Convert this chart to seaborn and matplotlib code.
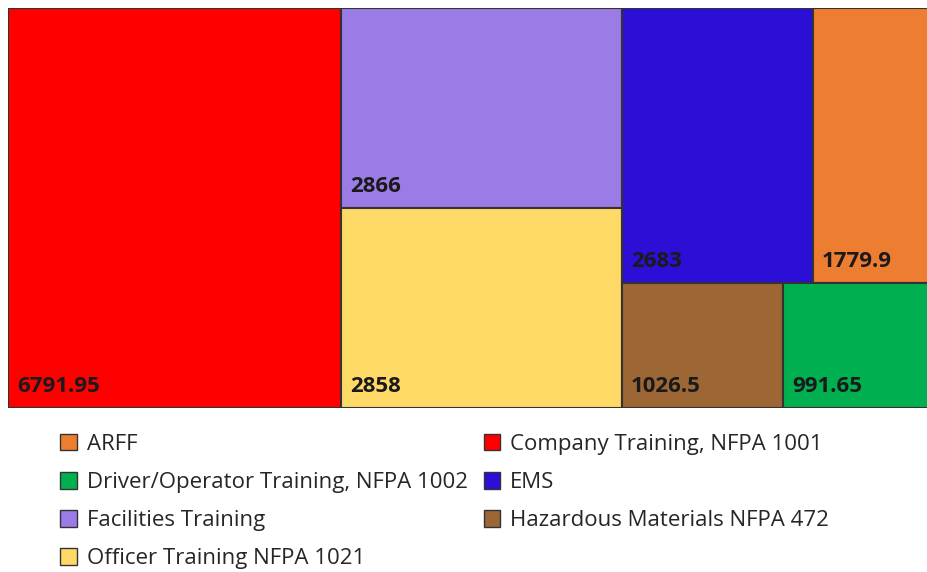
import matplotlib
matplotlib.use('Agg')
import matplotlib.pyplot as plt
from matplotlib.patches import Rectangle, Patch
import seaborn as sns

# 数据
categories = [
    "Company Training, NFPA 1001",
    "Facilities Training",
    "Officer Training NFPA 1021",
    "EMS",
    "ARFF",
    "Hazardous Materials NFPA 472",
    "Driver/Operator Training, NFPA 1002",
]
values = [6791.95, 2866, 2858, 2683, 1779.9, 1026.5, 991.65]
labels = ["6791.95", "2866", "2858", "2683", "1779.9", "1026.5", "991.65"]
colors = ["#FF0000", "#9B7BE6", "#FFD966", "#2B0FD6", "#ED7D31", "#9C6635", "#00B050"]

# 分组结构（索引）：第一列、第二列（上下堆叠）、第三块（两行）
col_groups = [[0], [1, 2]]
row_groups = [[3, 4], [5, 6]]

sns.set_style("white")
plt.rcParams['font.family'] = ['Open Sans', 'DejaVu Sans']

fig = plt.figure(figsize=(9.28, 5.72), dpi=100)
# 绘图区右侧超出画布（被裁掉）
ax = fig.add_axes([8 / 928, 1 - 408 / 572, 931.6 / 928, 400 / 572])

W, H = 931.6, 400.0
total = sum(values)
scale = W * H / total

rects = {}
x = 0.0
for grp in col_groups:
    gsum = sum(values[i] for i in grp)
    w = gsum * scale / H
    y = H
    for i in grp:
        h = values[i] / gsum * H
        rects[i] = (x, y - h, w, h)
        y -= h
    x += w

rest_w = W - x
rest_sum = sum(values[i] for g in row_groups for i in g)
y = H
for grp in row_groups:
    gsum = sum(values[i] for i in grp)
    h = gsum / rest_sum * H
    xx = x
    for i in grp:
        w = values[i] / gsum * rest_w
        rects[i] = (xx, y - h, w, h)
        xx += w
    y -= h

for i, (rx, ry, rw, rh) in rects.items():
    ax.add_patch(Rectangle((rx, ry), rw, rh, facecolor=colors[i],
                           edgecolor="#333333", linewidth=1.5))
    ax.text(rx + 9, ry + 11, labels[i], fontsize=16, fontweight='bold',
            color="#1a1a1a", ha='left', va='bottom')

ax.set_xlim(0, W)
ax.set_ylim(0, H)
ax.axis('off')

# 图例：按字母顺序，按行排列
order = sorted(range(len(categories)), key=lambda i: categories[i].lower())
left = order[0::2]
right = order[1::2]
handles = [Patch(facecolor=colors[i], edgecolor="#333333", linewidth=1,
                 label=categories[i]) for i in left + right]
fig.legend(handles=handles, ncol=2, loc='upper left',
           bbox_to_anchor=(40 / 928, 1 - 414 / 572), frameon=False,
           fontsize=16, handlelength=0.75, handleheight=0.75,
           handletextpad=0.45, columnspacing=0.72, labelspacing=0.77,
           labelcolor="#262626")

fig.savefig("out.png", dpi=100)
